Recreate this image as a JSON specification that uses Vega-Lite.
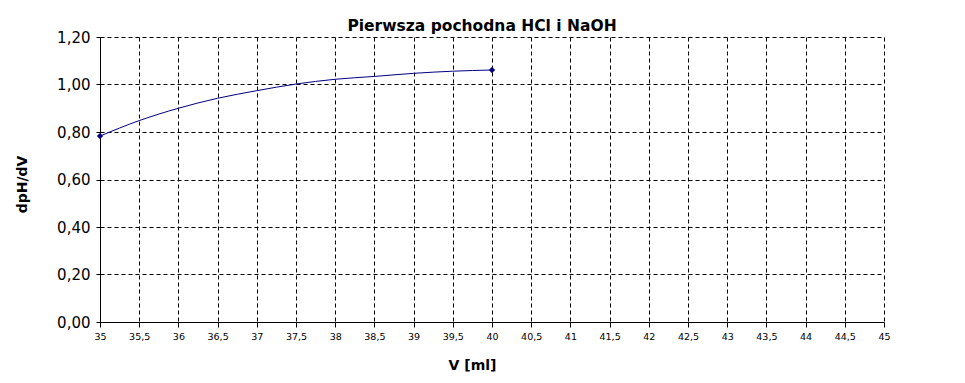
{
  "$schema": "https://vega.github.io/schema/vega-lite/v6.json",
  "width": 784,
  "height": 285,
  "autosize": "none",
  "padding": {"left": 100, "top": 37, "right": 81, "bottom": 61},
  "background": "white",
  "config": {
    "locale": {"number": {"decimal": ",", "thousands": " ", "grouping": [3], "currency": ["", " zł"]}},
    "font": "DejaVu Sans",
    "view": {"stroke": null},
    "axis": {
      "domainColor": "black",
      "tickColor": "black",
      "gridColor": "black",
      "gridDash": [4, 3],
      "gridOpacity": 1,
      "labelColor": "black",
      "titleColor": "black",
      "labelFont": "DejaVu Sans",
      "titleFont": "DejaVu Sans"
    }
  },
  "title": {
    "text": "Pierwsza pochodna HCl i NaOH",
    "font": "DejaVu Sans",
    "fontSize": 15.5,
    "fontWeight": "bold",
    "color": "black",
    "anchor": "middle",
    "offset": -4,
    "dx": -10
  },
  "data": {
    "values": [
      {"V": 35, "d": 0.783},
      {"V": 35.5, "d": 0.848},
      {"V": 36, "d": 0.9},
      {"V": 36.5, "d": 0.942},
      {"V": 37, "d": 0.974},
      {"V": 37.5, "d": 1.002},
      {"V": 38, "d": 1.022},
      {"V": 38.5, "d": 1.034},
      {"V": 39, "d": 1.047},
      {"V": 39.5, "d": 1.056},
      {"V": 40, "d": 1.061}
    ]
  },
  "encoding": {
    "x": {
      "field": "V",
      "type": "quantitative",
      "scale": {"domain": [35, 45], "nice": false, "zero": false},
      "axis": {
        "title": "V [ml]",
        "values": [35, 35.5, 36, 36.5, 37, 37.5, 38, 38.5, 39, 39.5, 40, 40.5, 41, 41.5, 42, 42.5, 43, 43.5, 44, 44.5, 45],
        "format": "~f",
        "labelFontSize": 9.5,
        "labelPadding": 4,
        "tickSize": 5,
        "titleFontSize": 14,
        "titleFontWeight": "bold",
        "titlePadding": 18,
        "titleX": 372,
        "labelFlush": false
      }
    },
    "y": {
      "field": "d",
      "type": "quantitative",
      "scale": {"domain": [0, 1.2], "nice": false},
      "axis": {
        "title": "dpH/dV",
        "values": [0, 0.2, 0.4, 0.6, 0.8, 1.0, 1.2],
        "format": ".2f",
        "labelFontSize": 15,
        "labelPadding": 6,
        "tickSize": 4,
        "titleFontSize": 14,
        "titleFontWeight": "bold",
        "titlePadding": 27,
        "titleY": 147
      }
    }
  },
  "layer": [
    {
      "mark": {"type": "line", "interpolate": "monotone", "color": "#000080", "strokeWidth": 1}
    },
    {
      "transform": [{"filter": "datum.V == 35 || datum.V == 40"}],
      "mark": {"type": "point", "shape": "diamond", "filled": true, "size": 40, "color": "#000080", "opacity": 1}
    }
  ]
}
